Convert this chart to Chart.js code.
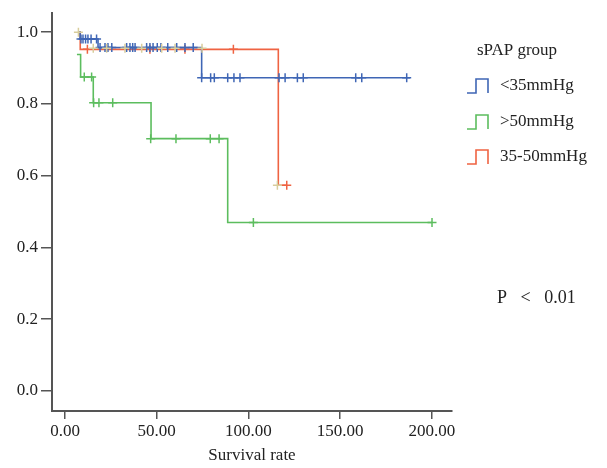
<!DOCTYPE html>
<html><head><meta charset="utf-8">
<script src="https://cdn.jsdelivr.net/npm/chart.js@4.4.1/dist/chart.umd.min.js"></script>
<style>html,body{margin:0;padding:0;background:#fff}#wrap{width:607px;height:468px}</style>
</head><body><div id="wrap"><canvas id="c" width="607" height="468"></canvas></div>
<script>
// ---- data ----
const xTickValues = [0, 50, 100, 150, 200];
const xTickLabels = ["0.00", "50.00", "100.00", "150.00", "200.00"];
const yTickValues = [0, 0.2, 0.4, 0.6, 0.8, 1.0];
const yTickLabels = ["0.0", "0.2", "0.4", "0.6", "0.8", "1.0"];
const groupNames = ["<35mmHg", ">50mmHg", "35-50mmHg"];
const legendTitle = "sPAP group";
const pText = "P < 0.01";
const xTitle = "Survival rate";

// <35mmHg step curve
const lowTimes = [7.1, 8.2, 18.0, 74.5, 188.1];
const lowSurv  = [1.0, 0.981, 0.957, 0.873, 0.873];
const lowCensT = [8.7, 9.8, 11.2, 12.5, 14.2, 17.2,
                  19.1, 21.8, 23.4, 25.5, 33.6, 35.4, 36.9, 38.2, 44.5, 46.3, 48.0, 50.3, 52.3, 56.0, 60.9, 65.4, 69.9,
                  74.5, 79.4, 81.4, 88.7, 92.1, 95.4, 116.7, 120.0, 126.7, 129.9, 158.5, 161.8, 186.3];
const lowCensS = [0.981, 0.981, 0.981, 0.981, 0.981, 0.981,
                  0.957, 0.957, 0.957, 0.957, 0.957, 0.957, 0.957, 0.957, 0.957, 0.957, 0.957, 0.957, 0.957, 0.957, 0.957, 0.957, 0.957,
                  0.873, 0.873, 0.873, 0.873, 0.873, 0.873, 0.873, 0.873, 0.873, 0.873, 0.873, 0.873, 0.873];

// >50mmHg step curve
const highTimes = [6.5, 8.5, 15.4, 46.9, 88.7, 200.1];
const highSurv  = [0.9375, 0.875, 0.803, 0.703, 0.469, 0.469];
const highCensT = [10.5, 14.5, 15.6, 18.5, 26.0, 46.7, 60.5, 79.2, 84.0, 102.7, 200.1];
const highCensS = [0.875, 0.875, 0.803, 0.803, 0.803, 0.703, 0.703, 0.703, 0.703, 0.469, 0.469];

// 35-50mmHg step curve
const midTimes = [7.1, 8.3, 116.3, 120.9];
const midSurv  = [1.0, 0.952, 0.573, 0.573];
const midCensT = [12.2, 46.3, 65.4, 91.8, 120.9];
const midCensS = [0.952, 0.952, 0.952, 0.952, 0.573];

// light censor marks
const tanCensT = [7.3, 15.4, 22.7, 32.7, 41.8, 52.7, 60.0, 74.7, 115.8];
const tanCensS = [1.0, 0.955, 0.955, 0.955, 0.955, 0.955, 0.955, 0.955, 0.573];

const colors = ["#3f66b5", "#5cbd5e", "#ef6342"];
const tanColor = "#d8cd9c";

const pts = (t, s) => t.map((v, i) => ({x: v, y: s[i]}));
const FONT = "'Liberation Serif', 'DejaVu Serif', serif";

function stepDs(t, s, c) {
  return {type: 'line', data: pts(t, s), borderColor: c, borderWidth: 1.6, stepped: true,
          pointRadius: 0, fill: false, tension: 0};
}
function censDs(t, s, c) {
  return {type: 'scatter', data: pts(t, s), borderColor: c, backgroundColor: c, showLine: false,
          pointStyle: 'cross', pointRadius: 4.5, pointBorderWidth: 1.5};
}

const legendPlugin = {
  id: 'kmLegend',
  afterDraw(chart) {
    const ctx = chart.ctx;
    ctx.save();
    ctx.fillStyle = '#222';
    ctx.font = "17px " + FONT;
    ctx.textBaseline = 'middle';
    ctx.textAlign = 'center';
    ctx.fillText(legendTitle, 517, 51);
    const ys = [86, 122, 157];
    groupNames.forEach((name, i) => {
      const y = ys[i];
      const x0 = 467, top = y - 7, bot = y + 7;
      ctx.strokeStyle = colors[i];
      ctx.lineWidth = 1.6;
      ctx.beginPath();
      ctx.moveTo(x0, bot);
      ctx.lineTo(x0 + 9, bot);
      ctx.lineTo(x0 + 9, top);
      ctx.lineTo(x0 + 21, top);
      ctx.lineTo(x0 + 21, bot);
      ctx.stroke();
      ctx.textAlign = 'left';
      ctx.fillStyle = '#222';
      ctx.fillText(name, 500, y);
    });
    ctx.textAlign = 'left';
    ctx.font = "18px " + FONT;
    try { ctx.wordSpacing = '9px'; } catch (e) {}
    ctx.fillText(pText, 497, 298);
    ctx.restore();
  }
};

new Chart(document.getElementById('c'), {
  data: {
    datasets: [
      censDs(tanCensT, tanCensS, tanColor),
      censDs(lowCensT, lowCensS, colors[0]),
      stepDs(lowTimes, lowSurv, colors[0]),
      censDs(midCensT, midCensS, colors[2]),
      stepDs(midTimes, midSurv, colors[2]),
      censDs(highCensT, highCensS, colors[1]),
      stepDs(highTimes, highSurv, colors[1])
    ]
  },
  options: {
    responsive: false,
    animation: false,
    devicePixelRatio: 1,
    layout: {padding: {left: 0, top: 12, right: 155, bottom: 0}},
    plugins: {legend: {display: false}, tooltip: {enabled: false}},
    scales: {
      x: {
        type: 'linear', min: -7.1, max: 211,
        afterBuildTicks: s => { s.ticks = xTickValues.map(v => ({value: v})); },
        afterFit: s => { s.height = 57; },
        ticks: {callback: v => xTickLabels[xTickValues.indexOf(v)], color: '#222',
                font: {family: FONT, size: 17}, padding: 2, maxRotation: 0, autoSkip: false},
        grid: {drawOnChartArea: false, drawTicks: true, tickLength: 8, color: '#555', lineWidth: 1.5},
        border: {display: true, color: '#555', width: 2},
        title: {display: true, text: xTitle, color: '#222', font: {family: FONT, size: 17},
                padding: {top: 0, bottom: 2}}
      },
      y: {
        type: 'linear', min: -0.0564, max: 1.0528,
        afterBuildTicks: s => { s.ticks = yTickValues.map(v => ({value: v})); },
        afterFit: s => { s.width = 52; },
        ticks: {callback: v => yTickLabels[yTickValues.findIndex(t => Math.abs(t - v) < 1e-6)],
                color: '#222', font: {family: FONT, size: 17}, padding: 3, autoSkip: false},
        grid: {drawOnChartArea: false, drawTicks: true, tickLength: 11, color: '#555', lineWidth: 1.5},
        border: {display: true, color: '#555', width: 2}
      }
    }
  },
  plugins: [legendPlugin]
});
</script></body></html>
